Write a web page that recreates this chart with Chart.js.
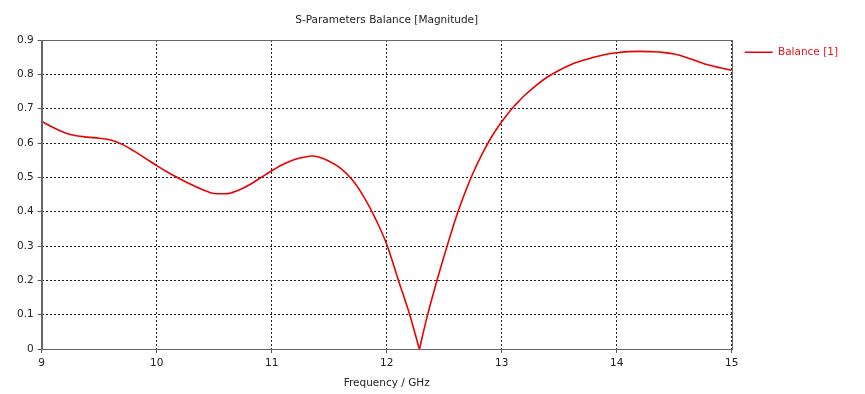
<!DOCTYPE html>
<html>
<head>
<meta charset="utf-8">
<script src="https://cdn.jsdelivr.net/npm/chart.js@4/dist/chart.umd.min.js"></script>
<style>
  html, body { margin: 0; padding: 0; background: #ffffff; }
  #wrap { width: 865px; height: 394px; }
</style>
</head>
<body>
<div id="wrap"><canvas id="c" width="865" height="394"></canvas></div>
<script>
const freq = [9.0, 9.1, 9.2, 9.3, 9.4, 9.5, 9.6, 9.7, 9.8, 9.9,
  10.0, 10.1, 10.2, 10.3, 10.4, 10.5, 10.6, 10.7, 10.8, 10.9,
  11.0, 11.1, 11.2, 11.3, 11.35, 11.4, 11.5, 11.6, 11.7, 11.8, 11.9,
  12.0, 12.1, 12.2, 12.27, 12.285, 12.30, 12.35, 12.40, 12.45, 12.50, 12.55, 12.60, 12.65,
  12.70, 12.75, 12.80, 12.85, 12.90, 12.95, 13.0, 13.05, 13.1, 13.15, 13.2, 13.3, 13.4, 13.5,
  13.6, 13.7, 13.8, 13.9, 14.0, 14.1, 14.2, 14.3, 14.4, 14.5, 14.6, 14.7, 14.8, 14.9, 15.0];
const balance = [0.663, 0.645, 0.630, 0.621, 0.617, 0.614, 0.609, 0.596, 0.577, 0.556,
  0.534, 0.514, 0.496, 0.479, 0.464, 0.453, 0.452, 0.461, 0.477, 0.498,
  0.519, 0.538, 0.552, 0.560, 0.562, 0.560, 0.547, 0.526, 0.493, 0.444, 0.381,
  0.305, 0.202, 0.100, 0.017, 0.000, 0.022, 0.092, 0.155, 0.215, 0.272, 0.327, 0.380, 0.428,
  0.472, 0.512, 0.548, 0.581, 0.611, 0.638, 0.662, 0.684, 0.704, 0.722, 0.739, 0.768, 0.793, 0.812,
  0.828, 0.840, 0.850, 0.858, 0.863, 0.866, 0.867, 0.866, 0.864, 0.859, 0.850, 0.838, 0.827, 0.819, 0.812];
const xTickLabels = ['9', '10', '11', '12', '13', '14', '15'];
const yTickLabels = ['0', '0.1', '0.2', '0.3', '0.4', '0.5', '0.6', '0.7', '0.8', '0.9'];
const seriesName = 'Balance [1]';
const chartTitle = 'S-Parameters Balance [Magnitude]';
const xTitle = 'Frequency / GHz';

const FONT = 'DejaVu Sans';
const RED = '#ee0000';

const frame = {
  id: 'frame',
  afterDraw(chart) {
    const a = chart.chartArea, ctx = chart.ctx;
    ctx.save();
    ctx.strokeStyle = '#666666';
    ctx.lineWidth = 1;
    ctx.strokeRect(Math.round(a.left) + 0.5, Math.round(a.top) + 0.5,
      Math.round(a.right) - Math.round(a.left), Math.round(a.bottom) - Math.round(a.top));
    ctx.restore();
  }
};

const gridOpts = {
  color: '#222222',
  lineWidth: 1,
  drawTicks: true,
  tickLength: 4,
  tickColor: '#555555',
  tickBorderDash: []
};

const chart = new Chart(document.getElementById('c'), {
  type: 'line',
  data: {
    datasets: [{
      label: seriesName,
      data: freq.map((f, i) => ({ x: f, y: balance[i] })),
      borderColor: RED,
      backgroundColor: RED,
      borderWidth: 1.6,
      pointRadius: 0,
      cubicInterpolationMode: 'monotone',
      tension: 0.4,
      fill: false
    }]
  },
  options: {
    responsive: false,
    animation: false,
    devicePixelRatio: 1,
    layout: { padding: { left: 0, right: 0, top: 0, bottom: 0 } },
    plugins: {
      title: {
        display: true,
        text: chartTitle,
        fullSize: false,
        color: '#222222',
        font: { family: FONT, size: 10.5, weight: 'normal', lineHeight: '14px' },
        padding: { top: 13, bottom: 13 }
      },
      legend: {
        display: true,
        position: 'right',
        align: 'start',
        fullSize: true,
        title: { display: true, text: '', font: { size: 12, lineHeight: 1 }, padding: { top: 22, bottom: 0 } },
        labels: {
          usePointStyle: true,
          pointStyle: 'line',
          pointStyleWidth: 28,
          padding: 13,
          color: '#e8101c',
          font: { family: FONT, size: 10.5 }
        }
      },
      tooltip: { enabled: false }
    },
    scales: {
      x: {
        type: 'linear',
        min: 9, max: 15,
        afterFit(s) { s.height = 45; },
        afterBuildTicks(s) { s.ticks = xTickLabels.map(Number).map(v => ({ value: v })); },
        ticks: {
          color: '#222222',
          font: { family: FONT, size: 10.5 },
          padding: 4,
          maxRotation: 0,
          callback: (v, i) => xTickLabels[i]
        },
        grid: gridOpts,
        border: { display: true, color: '#666666', width: 1, dash: [2, 2] },
        title: {
          display: true,
          text: xTitle,
          color: '#222222',
          font: { family: FONT, size: 10.5 },
          padding: { top: 4, bottom: 4 }
        }
      },
      y: {
        type: 'linear',
        min: 0, max: 0.9,
        afterFit(s) { s.width = 41.7; },
        afterBuildTicks(s) { s.ticks = yTickLabels.map(Number).map(v => ({ value: v })); },
        ticks: {
          color: '#222222',
          font: { family: FONT, size: 10.5 },
          padding: 4,
          callback: (v, i) => yTickLabels[i]
        },
        grid: gridOpts,
        border: { display: true, color: '#666666', width: 1, dash: [2, 2] }
      }
    }
  },
  plugins: [frame]
});

// fit the plot's right edge to the reference layout
const over = chart.chartArea.right - 731.7;
if (over > 0) {
  chart.options.layout.padding.right = over;
  chart.update('none');
}
</script>
</body>
</html>
